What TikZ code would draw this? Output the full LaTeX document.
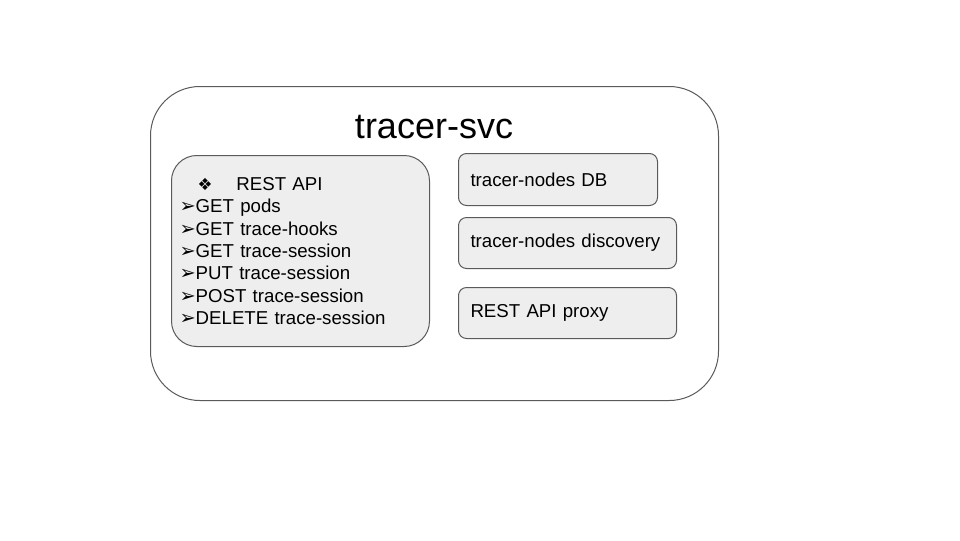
\documentclass[tikz,border=0pt]{standalone}
\usepackage{fontspec}
\setmainfont{Liberation Sans}
\newfontfamily\symfont{DejaVu Sans}
\usetikzlibrary{positioning}
\definecolor{boxfill}{HTML}{EEEEEE}
\definecolor{boxline}{HTML}{5A5A5A}
\newcommand{\apiline}[1]{{\symfont\fontsize{14.5}{16.8}\selectfont ➢}#1}

\begin{document}
\begin{tikzpicture}[x=0.75pt, y=-0.75pt, node distance=9pt,
  part/.style={rectangle, draw=boxline, fill=boxfill, line width=0.75pt,
    rounded corners=6pt, anchor=north west, inner xsep=9pt, align=left,
    font=\fontsize{14}{16.8}\selectfont}]
  \useasboundingbox (0,0) rectangle (960,540);
  \node[rectangle, draw=boxline, line width=0.75pt, rounded corners=37pt,
    minimum width=426pt, minimum height=235.5pt, anchor=north west] (svc) at (150,86) {};
  \node[font=\fontsize{27}{32}\selectfont] (title) at (434,127) {tracer-svc};
  \node[part, rounded corners=19pt, inner xsep=6pt, text width=181.5pt,
    minimum height=143.25pt] (api) at (171,155) {
    \hspace*{13.5pt}{\symfont\fontsize{12.5}{16.8}\selectfont ❖}\hspace{18pt}REST API\\
    \apiline{GET pods}\\
    \apiline{GET trace-hooks}\\
    \apiline{GET trace-session}\\
    \apiline{PUT trace-session}\\
    \apiline{POST trace-session}\\
    \apiline{DELETE trace-session}};
  \node[part, text width=131.25pt, minimum height=39pt] (db) at (458,153) {tracer-nodes DB};
  \node[part, text width=145.5pt, minimum height=38.25pt]
    [below=8.25pt of db.south west, anchor=north west] (disc) {tracer-nodes discovery};
  \node[part, text width=145.5pt, minimum height=38.25pt]
    [below=13.5pt of disc.south west, anchor=north west] (proxy) {REST API proxy};
\end{tikzpicture}
\end{document}
